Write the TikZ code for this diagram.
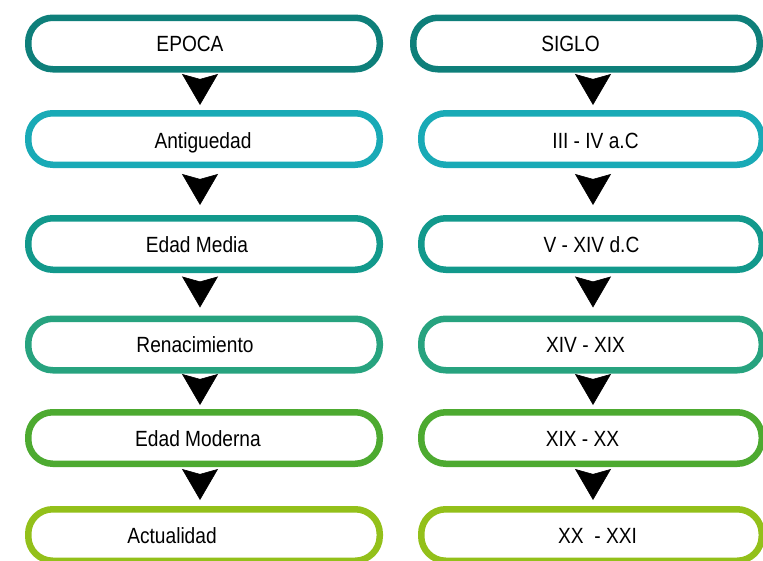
\documentclass[tikz,border=0pt]{standalone}
\usepackage{fontspec}
\setmainfont{Liberation Sans}[FakeStretch=0.87]
\usetikzlibrary{arrows.meta}
\definecolor{cA}{HTML}{0E7F7A}
\definecolor{cB}{HTML}{19AAB6}
\definecolor{cC}{HTML}{12998C}
\definecolor{cD}{HTML}{27A37F}
\definecolor{cE}{HTML}{4DAA30}
\definecolor{cF}{HTML}{93C01A}
\tikzset{
  x=1pt, y=1pt,
  pill/.style={draw=#1, line width=6.5pt, fill=white, rounded corners=24.5pt,
    minimum height=51.5pt, inner sep=0pt},
  lbox/.style={pill=#1, minimum width=351.5pt},
  rbox/.style={pill=#1, minimum width=340.5pt},
  rtop/.style={pill=#1, minimum width=346.5pt},
  txt/.style={font=\fontsize{22}{25}\selectfont, text=black, inner sep=0pt, anchor=base},
  flow/.style={line width=0.6pt,
    -{Stealth[length=31pt, width=36pt, inset=5pt]}},
}
\begin{document}
\begin{tikzpicture}
\useasboundingbox (0,0) rectangle (763,-560);
\begin{scope}
\clip (0,0) rectangle (763,-560);
% left column
\node[lbox=cA] (l1) at (204,-43.5) {};
\node[lbox=cB] (l2) at (204,-139) {};
\node[lbox=cC] (l3) at (204,-244) {};
\node[lbox=cD] (l4) at (204,-344.5) {};
\node[lbox=cE] (l5) at (204,-438) {};
\node[lbox=cF] (l6) at (204,-535) {};
% right column
\node[rtop=cA] (r1) at (586.5,-43.5) {};
\node[rbox=cB] (r2) at (591.5,-139) {};
\node[rbox=cC] (r3) at (591.5,-244) {};
\node[rbox=cD] (r4) at (591.5,-344.5) {};
\node[rbox=cE] (r5) at (591.5,-438) {};
\node[rbox=cF] (r6) at (591.5,-535) {};
% texts
\node[txt] (t1) at ([xshift=-14pt,yshift=-8pt]l1.center) {EPOCA};
\node[txt] (t2) at ([xshift=-1pt,yshift=-9pt]l2.center) {Antiguedad};
\node[txt] (t3) at ([xshift=-7pt,yshift=-8pt]l3.center) {Edad Media};
\node[txt] (t4) at ([xshift=-9pt,yshift=-8pt]l4.center) {Renacimiento};
\node[txt] (t5) at ([xshift=-6pt,yshift=-8pt]l5.center) {Edad Moderna};
\node[txt] (t6) at ([xshift=-32pt,yshift=-8pt]l6.center) {Actualidad};
\node[txt] (s1) at ([xshift=-16pt,yshift=-8pt]r1.center) {SIGLO};
\node[txt] (s2) at ([xshift=4pt,yshift=-9pt]r2.center) {III - IV a.C};
\node[txt] (s3) at ([xshift=0pt,yshift=-8pt]r3.center) {V - XIV d.C};
\node[txt] (s4) at ([xshift=-6pt,yshift=-8pt]r4.center) {XIV - XIX};
\node[txt] (s5) at ([xshift=-9pt,yshift=-8pt]r5.center) {XIX - XX};
\node[txt] (s6) at ([xshift=6pt,yshift=-8pt]r6.center) {XX\ \ - XXI};
% arrows: upper/lower/start-shorten/end-shorten
\foreach \i/\j/\s/\e in {1/2/9/5, 2/3/14/10, 3/4/11/8, 4/5/8/4, 5/6/10/6} {
  \draw[flow, shorten <=\s pt, shorten >=\e pt]
    ([xshift=-4pt]l\i.south) -- ([xshift=-4pt]l\j.north);
  \draw[flow, shorten <=\s pt, shorten >=\e pt]
    ([xshift=1.5pt]r\j.north |- r\i.south) -- ([xshift=1.5pt]r\j.north);
}
\end{scope}
\end{tikzpicture}
\end{document}
